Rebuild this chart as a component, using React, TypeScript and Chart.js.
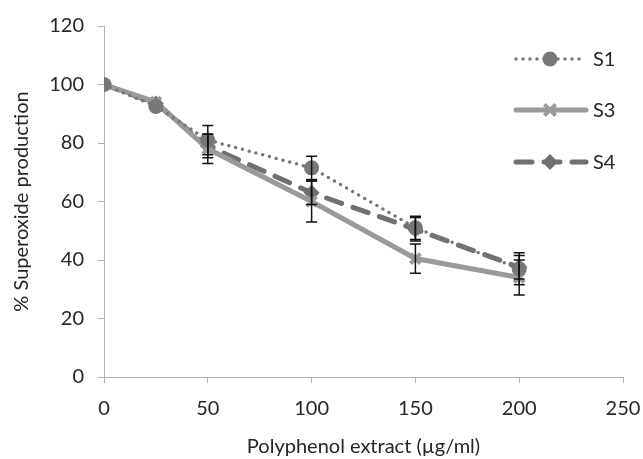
import React, { useEffect, useRef } from "react";
import { Chart, registerables } from "chart.js";

Chart.register(...registerables);

const xValues = [0, 25, 50, 100, 150, 200];
const seriesNames = ["S1", "S3", "S4"];
const s1Values = [100, 92.5, 81, 71.5, 51, 37];
const s3Values = [100, 94, 78, 60, 40.5, 34];
const s4Values = [100, 93.5, 79, 63, 50.5, 37.5];
const s1Errors = [0, 0, 5, 4, 4, 5.5];
const s3Errors = [0, 0, 5, 7, 5, 6];
const s4Errors = [0, 0, 4, 4, 4, 4];
const xTicks = [0, 50, 100, 150, 200, 250];
const yTicks = [0, 20, 40, 60, 80, 100, 120];

const FONT = "Lato, 'Open Sans', sans-serif";
const TEXT = "#262626";
const AXIS = "#b3b3b3";
const FS = 20;

const styles = [
  { color: "#777777", width: 3.5, dash: [0, 7], point: "circle", radius: 7.5 },
  { color: "#9a9a9a", width: 5, dash: [], point: "crossRot", radius: 7 },
  { color: "#707070", width: 5, dash: [16, 12], point: "rectRot", radius: 8 },
];

const errorBarPlugin = {
  id: "errorBars",
  afterDatasetsDraw(chart: any) {
    const { ctx, scales } = chart;
    const errs = [s1Errors, s3Errors, s4Errors];
    const vals = [s1Values, s3Values, s4Values];
    ctx.save();
    ctx.strokeStyle = "#111111";
    ctx.lineWidth = 1.5;
    errs.forEach((errArr, si) => {
      errArr.forEach((e, i) => {
        if (!e) return;
        const x = scales.x.getPixelForValue(xValues[i]);
        const yt = scales.y.getPixelForValue(vals[si][i] + e);
        const yb = scales.y.getPixelForValue(vals[si][i] - e);
        ctx.beginPath();
        ctx.moveTo(x, yt);
        ctx.lineTo(x, yb);
        ctx.moveTo(x - 5.5, yt);
        ctx.lineTo(x + 5.5, yt);
        ctx.moveTo(x - 5.5, yb);
        ctx.lineTo(x + 5.5, yb);
        ctx.stroke();
      });
    });
    ctx.restore();
  },
};

const legendPlugin = {
  id: "customLegend",
  afterDraw(chart: any) {
    const { ctx } = chart;
    const rows = [59, 110, 162];
    ctx.save();
    styles.forEach((st, i) => {
      const y = rows[i];
      ctx.strokeStyle = st.color;
      ctx.lineWidth = st.width;
      ctx.lineCap = "round";
      ctx.setLineDash(st.dash);
      ctx.beginPath();
      ctx.moveTo(516, y);
      ctx.lineTo(586, y);
      ctx.stroke();
      ctx.setLineDash([]);
      ctx.fillStyle = st.color;
      const cx = 550;
      if (st.point === "circle") {
        ctx.beginPath();
        ctx.arc(cx, y, st.radius, 0, Math.PI * 2);
        ctx.fill();
      } else if (st.point === "crossRot") {
        ctx.lineWidth = 4;
        ctx.lineCap = "butt";
        const r = st.radius * 0.8;
        ctx.beginPath();
        ctx.moveTo(cx - r, y - r);
        ctx.lineTo(cx + r, y + r);
        ctx.moveTo(cx - r, y + r);
        ctx.lineTo(cx + r, y - r);
        ctx.stroke();
      } else {
        ctx.beginPath();
        ctx.moveTo(cx, y - st.radius);
        ctx.lineTo(cx + st.radius, y);
        ctx.lineTo(cx, y + st.radius);
        ctx.lineTo(cx - st.radius, y);
        ctx.closePath();
        ctx.fill();
      }
      ctx.fillStyle = TEXT;
      ctx.font = `${FS}px ${FONT}`;
      ctx.textBaseline = "middle";
      ctx.textAlign = "left";
      ctx.fillText(seriesNames[i], 593, y + 1);
    });
    ctx.restore();
  },
};

export default function App() {
  const ref = useRef<HTMLCanvasElement | null>(null);
  useEffect(() => {
    if (!ref.current) return;
    const all = [s1Values, s3Values, s4Values];
    const chart = new Chart(ref.current, {
      type: "line",
      data: {
        datasets: all.map((vals, si) => ({
          label: seriesNames[si],
          data: vals.map((v, i) => ({ x: xValues[i], y: v })),
          borderColor: styles[si].color,
          backgroundColor: styles[si].color,
          borderWidth: styles[si].width,
          borderDash: styles[si].dash,
          borderCapStyle: "round",
          pointStyle: styles[si].point as any,
          pointRadius: styles[si].radius,
          pointBorderWidth: styles[si].point === "crossRot" ? 4 : 0,
          pointBorderColor: styles[si].color,
          pointBackgroundColor: styles[si].color,
          tension: 0,
          fill: false,
        })),
      },
      options: {
        animation: false,
        responsive: false,
        maintainAspectRatio: false,
        layout: { padding: { left: 0, right: 0, top: 26, bottom: 0 } },
        plugins: { legend: { display: false }, tooltip: { enabled: false } },
        scales: {
          x: {
            type: "linear",
            min: 0,
            max: 250,
            afterBuildTicks: (s: any) => {
              s.ticks = xTicks.map((v) => ({ value: v }));
            },
            afterFit: (s: any) => {
              s.height = 82;
              s.paddingRight = 20;
              s.paddingLeft = 0;
            },
            grid: { drawOnChartArea: false, drawTicks: true, tickLength: 6, color: AXIS },
            border: { display: true, color: AXIS, width: 1 },
            ticks: { color: TEXT, font: { family: FONT, size: FS }, padding: 14, maxRotation: 0 },
            title: {
              display: true,
              text: "Polyphenol extract (µg/ml)",
              color: TEXT,
              font: { family: FONT, size: FS },
              padding: { top: 10, bottom: 0 },
            },
          },
          y: {
            type: "linear",
            min: 0,
            max: 120,
            afterBuildTicks: (s: any) => {
              s.ticks = yTicks.map((v) => ({ value: v }));
            },
            afterFit: (s: any) => {
              s.width = 104;
            },
            grid: { drawOnChartArea: false, drawTicks: true, tickLength: 6, color: AXIS },
            border: { display: true, color: AXIS, width: 1 },
            ticks: { color: TEXT, font: { family: FONT, size: FS }, padding: 14 },
            title: {
              display: true,
              text: "% Superoxide production",
              color: TEXT,
              font: { family: FONT, size: FS },
              padding: { top: 10, bottom: 2 },
            },
          },
        },
      },
      plugins: [errorBarPlugin, legendPlugin],
    });
    return () => chart.destroy();
  }, []);
  return (
    <div style={{ position: "fixed", left: 0, top: 0, width: 643, height: 459, background: "#fff" }}>
      <canvas ref={ref} width={643} height={459} style={{ width: 643, height: 459 }} />
    </div>
  );
}
